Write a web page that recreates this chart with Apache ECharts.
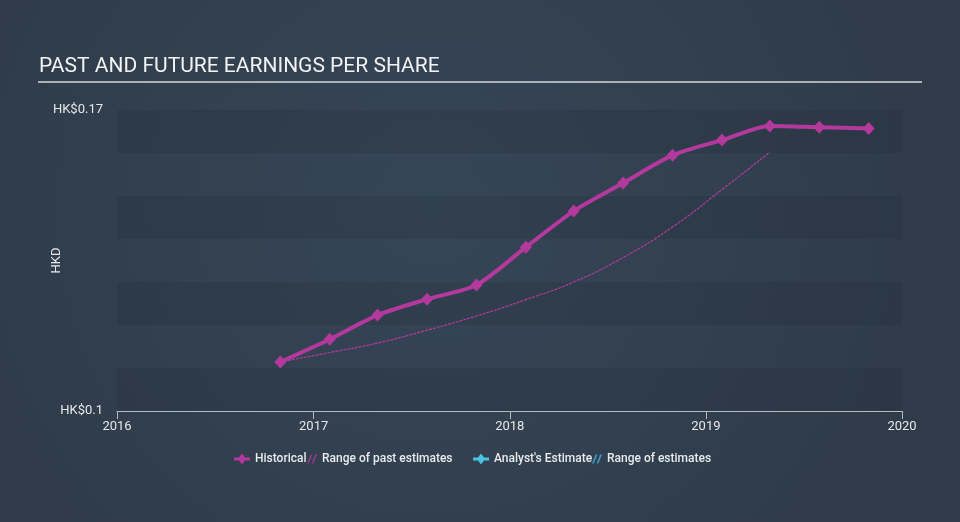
<!DOCTYPE html>
<html>
<head>
<meta charset="utf-8">
<style>
html,body{margin:0;padding:0;width:960px;height:522px;overflow:hidden;background:#303e4d;}
#chart{width:960px;height:522px;}
</style>
<script src="https://cdn.jsdelivr.net/npm/echarts@6/dist/echarts.min.js"></script>
</head>
<body>
<div id="chart"></div>
<script>
// ---- data ----
var histDates = ['2016-10-31','2017-01-31','2017-04-30','2017-07-31','2017-10-31','2018-01-31','2018-04-30','2018-07-31','2018-10-31','2019-01-31','2019-04-30','2019-07-31','2019-10-31'];
var histEps = [0.1114,0.1167,0.1223,0.1260,0.1293,0.1381,0.1465,0.1530,0.1595,0.1630,0.1663,0.1660,0.1657];
var pastEstDates = ['2016-10-31','2017-01-31','2017-04-30','2017-07-31','2017-10-31','2018-01-31','2018-04-30','2018-07-31','2018-10-31','2019-01-31','2019-04-30'];
var pastEstEps = [0.1114,0.1136,0.1158,0.1188,0.1221,0.1259,0.1300,0.1357,0.1428,0.1515,0.1602];
var yTickLabels = {'0.1':'HK$0.1','0.17':'HK$0.17'};
var xMin = '2016-01-01', xMax = '2020-01-01';
var titleText = 'PAST AND FUTURE EARNINGS PER SHARE';

function pairs(d, v){ return d.map(function(x,i){ return [x, v[i]]; }); }

var MAG = '#b4399d', CYAN = '#4cc3e6';
var histIcon = 'path://M0,5 L5,5 L8,1 L11,5 L16,5 L16,8 L11,8 L8,12 L5,8 L0,8 Z';
var hatchIcon = 'path://M0,10 L4,0 L6,0 L2,10 Z M5,10 L9,0 L11,0 L7,10 Z';
var legText = {color:'#e8ebee',fontSize:12,fontWeight:500,fontFamily:'Roboto'};

function leg(left, name, icon, w, h, color){
  var d = {name:name, icon:icon};
  if (color) d.itemStyle = {color:color};
  return {left:left, top:453, padding:0, itemGap:0, itemWidth:w, itemHeight:h, textStyle:legText, data:[d]};
}

var chart = echarts.init(document.getElementById('chart'), null, {renderer:'canvas'});
chart.setOption({
  animation:false,
  backgroundColor:{type:'radial',x:0.45,y:0.4,r:0.95,colorStops:[{offset:0,color:'#364657'},{offset:1,color:'#2f3b49'}]},
  textStyle:{fontFamily:'Roboto'},
  grid:{left:117,right:58,top:110,bottom:111,containLabel:false},
  graphic:[
    {type:'text',left:39,top:56,style:{text:titleText,fill:'#f2f2f2',font:'21px Roboto'}},
    {type:'line',shape:{x1:38,y1:82,x2:922,y2:82},style:{stroke:'#aab1b8',lineWidth:2}}
  ],
  legend:[
    leg(234, 'Historical', histIcon, 16, 13),
    leg(307, 'Range of past estimates', hatchIcon, 10, 11, '#8f3a86'),
    leg(473, "Analyst's Estimate", histIcon, 16, 13),
    leg(592, 'Range of estimates', hatchIcon, 10, 11, '#3f9bbd')
  ],
  xAxis:{
    type:'time', min:xMin, max:xMax, minInterval:365*24*3600*1000, splitNumber:4,
    axisLine:{lineStyle:{color:'#b3bcc5',width:1}},
    axisTick:{show:true,length:8,inside:false,lineStyle:{color:'#b3bcc5'}},
    axisLabel:{color:'#e4e7ea',fontSize:13,margin:9,showMinLabel:true,showMaxLabel:true,
      formatter:function(v){return String(new Date(v).getFullYear());}},
    splitLine:{show:false}
  },
  yAxis:{
    type:'value', min:0.1, max:0.17, interval:0.01,
    name:'HKD', nameLocation:'middle', nameGap:54, nameRotate:90, nameMoveOverlap:false,
    nameTextStyle:{color:'#e4e7ea',fontSize:13},
    axisLine:{show:false}, axisTick:{show:false},
    axisLabel:{color:'#e4e7ea',fontSize:13,margin:14,
      formatter:function(v){var k=String(Math.round(v*100)/100);return yTickLabels[k]||'';}},
    splitLine:{show:false},
    splitArea:{show:true,areaStyle:{color:['rgba(28,38,50,0.2)','rgba(0,0,0,0)']}}
  },
  series:[
    {name:'Range of past estimates',type:'line',data:pairs(pastEstDates,pastEstEps),smooth:0.5,
     showSymbol:false,symbol:'none',lineStyle:{color:MAG,width:1.2,type:[3,1]},itemStyle:{color:MAG},z:2},
    {name:'Historical',type:'line',data:pairs(histDates,histEps),smooth:0.25,
     symbol:'diamond',symbolSize:[12,13],showSymbol:true,
     lineStyle:{color:MAG,width:4},itemStyle:{color:MAG},z:3},
    {name:"Analyst's Estimate",type:'line',data:[],itemStyle:{color:CYAN},lineStyle:{color:CYAN}},
    {name:'Range of estimates',type:'line',data:[],itemStyle:{color:CYAN},lineStyle:{color:CYAN}}
  ]
});
</script>
</body>
</html>
